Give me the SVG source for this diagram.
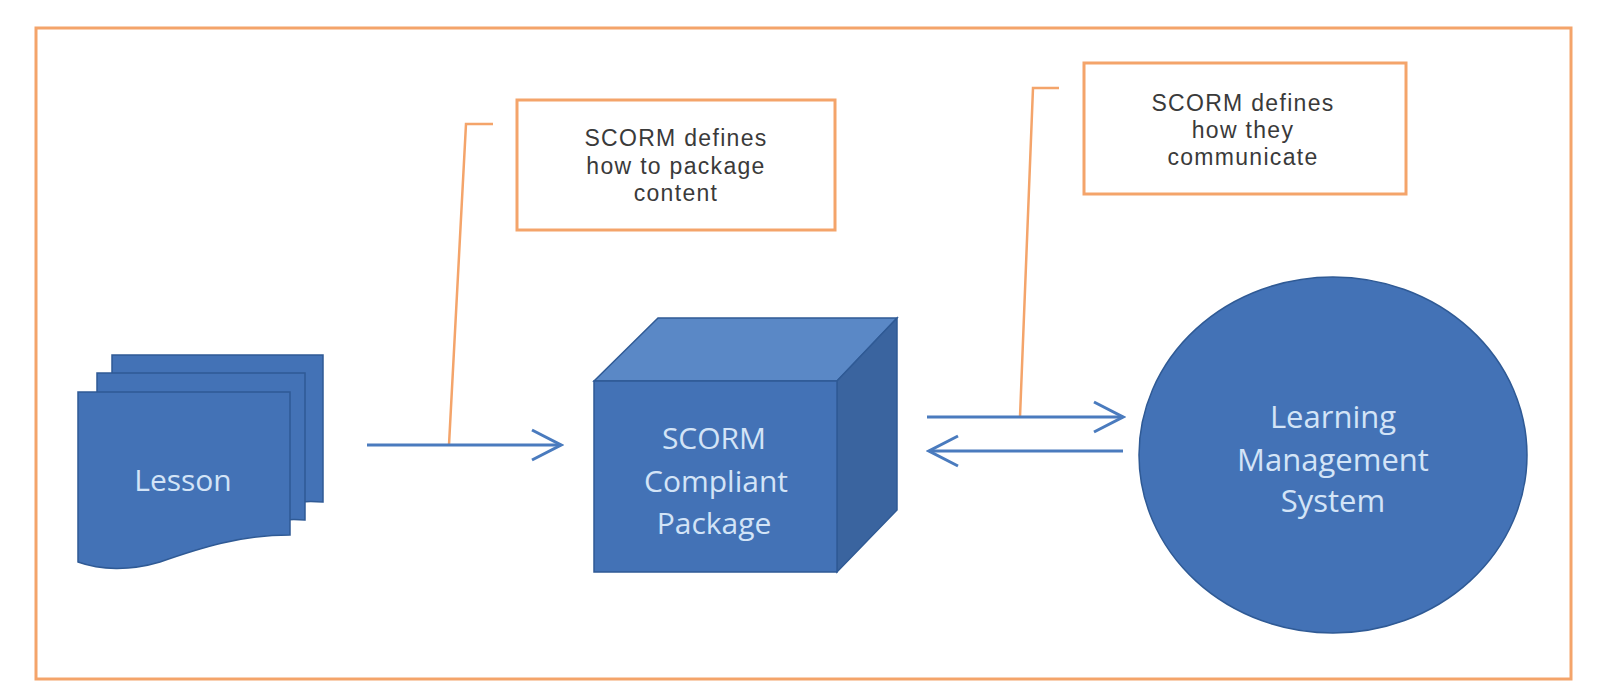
<svg xmlns="http://www.w3.org/2000/svg" width="1600" height="700" viewBox="0 0 1600 700">
<style>
.frame{fill:#fff;stroke:#F4A46A;stroke-width:3}
.callout{fill:#fff;stroke:#F4A46A;stroke-width:3}
.leader{fill:none;stroke:#F4A46A;stroke-width:2.5}
.shape{fill:#4372B6;stroke:#2F5A95;stroke-width:1.5}
.top{fill:#5A88C6;stroke:#2F5A95;stroke-width:1.5}
.side{fill:#3A649F;stroke:#2F5A95;stroke-width:1.5}
.lt{font-family:"Open Sans","Liberation Sans",sans-serif;fill:#D3E4F7;text-anchor:middle}
.ct{font-family:"Liberation Sans",Arial,sans-serif;fill:#3A3A3A;text-anchor:middle;font-size:23px;letter-spacing:1.3px}
.arrow{fill:none;stroke:#4A7BBE;stroke-width:3;marker-end:url(#chev)}
</style>
<defs>
<marker id="chev" markerUnits="userSpaceOnUse" markerWidth="34" markerHeight="36" refX="31" refY="17" orient="auto">
<path d="M2,2 L31,17 L2,32" fill="none" stroke="#4A7BBE" stroke-width="3"/>
</marker>
</defs>
<rect width="1600" height="700" fill="#fff"/>
<rect class="frame" x="36" y="28" width="1535" height="651"/>

<g id="lesson">
<path class="shape" d="M112,355 H323 V502 C300,500 285,503 270,508 L112,515 Z"/>
<path class="shape" d="M97,373 H305 V520 C285,518 270,521 255,526 L97,535 Z"/>
<path class="shape" d="M78,392 H290 V535 C240,535 200,548 160,562 C130,571 100,570 78,562 Z"/>
<text class="lt" x="183" y="491" font-size="30">Lesson</text>
</g>

<g id="package">
<polygon class="top" points="594,381 658,318 897,318 837,381"/>
<polygon class="side" points="837,381 897,318 897,510 837,572"/>
<rect class="shape" x="594" y="381" width="243" height="191"/>
<text class="lt" font-size="30"><tspan x="714" y="449">SCORM</tspan><tspan x="716" y="492">Compliant</tspan><tspan x="714" y="534">Package</tspan></text>
</g>

<g id="lms">
<ellipse class="shape" cx="1333" cy="455" rx="194" ry="178"/>
<text class="lt" font-size="31"><tspan x="1333" y="428">Learning</tspan><tspan x="1333" y="471">Management</tspan><tspan x="1333" y="512">System</tspan></text>
</g>

<g id="callout-package">
<rect class="callout" x="517" y="100" width="318" height="130"/>
<text class="ct" x="676" y="146">SCORM defines</text>
<text class="ct" x="676" y="174">how to package</text>
<text class="ct" x="676" y="201">content</text>
</g>

<g id="callout-communicate">
<rect class="callout" x="1084" y="63" width="322" height="131"/>
<text class="ct" x="1243" y="111">SCORM defines</text>
<text class="ct" x="1243" y="138">how they</text>
<text class="ct" x="1243" y="165">communicate</text>
</g>

<g id="connectors">
<polyline class="leader" points="493,124 466,124 449,445"/>
<polyline class="leader" points="1059,88 1033,88 1020,417"/>
<line class="arrow" x1="367" y1="445" x2="561" y2="445"/>
<line class="arrow" x1="927" y1="417" x2="1123" y2="417"/>
<line class="arrow" x1="1123" y1="451" x2="929" y2="451"/>
</g>
</svg>
